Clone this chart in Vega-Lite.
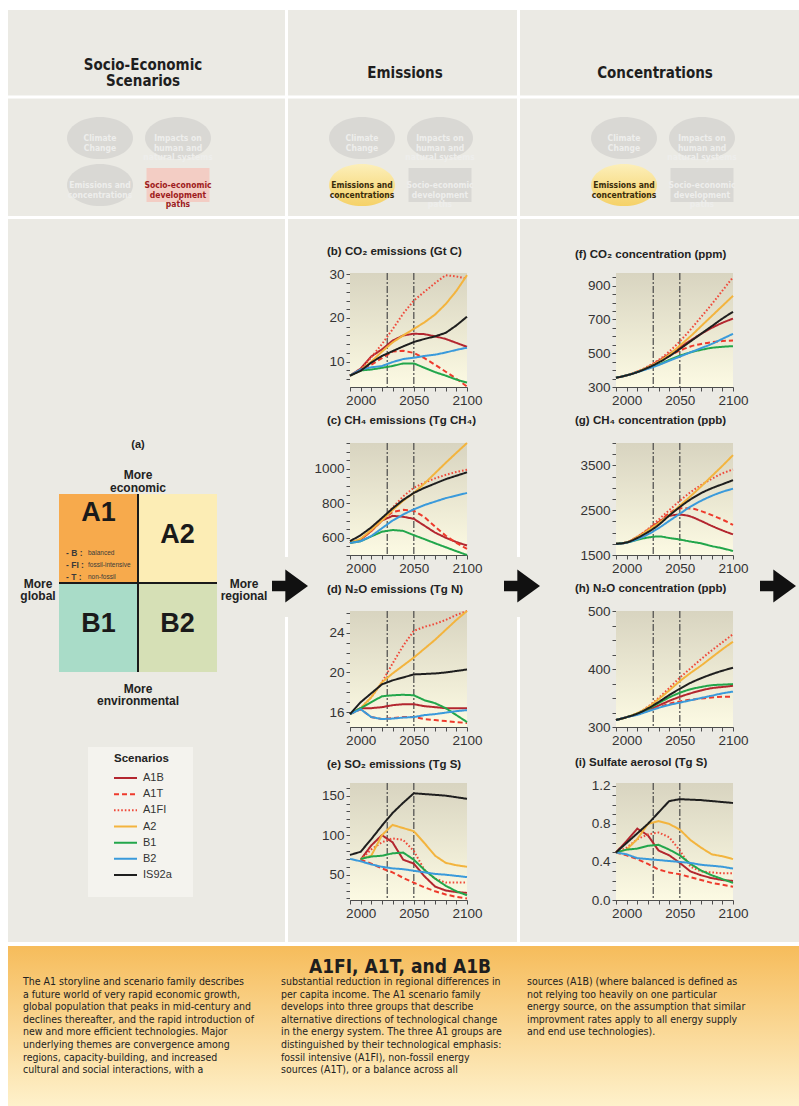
{
"$schema": "https://vega.github.io/schema/vega-lite/v6.json",
"background": "#EBEAE4",
"padding": 0,
"columns": 5,
"align": "each",
"bounds": "flush",
"spacing": {"row": 56, "column": 0},
"config": {
  "view": {"stroke": null},
  "font": "Liberation Sans",
  "legend": {"disable": true},
  "axis": {"grid": false, "domainColor": "#4d4d4d", "domainWidth": 1, "tickColor": "#4d4d4d", "tickSize": 4, "labelFont": "Liberation Sans", "labelFontSize": 13.5, "labelColor": "#333333", "labelPadding": 2, "labelOverlap": false, "labelFlush": false},
  "title": {"font": "Liberation Sans", "fontSize": 11.5, "fontWeight": "bold", "color": "#222222", "anchor": "start", "frame": "group", "offset": 10},
  "text": {"font": "Liberation Sans"}
},
"datasets": {
  "nodes": [
    {"panel": "Socio-Economic Scenarios", "node": "Climate change", "slot": "left", "tier": "top", "label": "Climate\nChange", "focus": false},
    {"panel": "Socio-Economic Scenarios", "node": "Impacts on human and natural systems", "slot": "right", "tier": "top", "label": "Impacts on\nhuman and\nnatural systems", "focus": false},
    {"panel": "Socio-Economic Scenarios", "node": "Emissions and concentrations", "slot": "left", "tier": "bottom", "label": "Emissions and\nconcentrations", "focus": false},
    {"panel": "Socio-Economic Scenarios", "node": "Socio-economic development paths", "slot": "right", "tier": "bottom", "label": "Socio-economic\ndevelopment\npaths", "focus": true},
    {"panel": "Emissions", "node": "Climate change", "slot": "left", "tier": "top", "label": "Climate\nChange", "focus": false},
    {"panel": "Emissions", "node": "Impacts on human and natural systems", "slot": "right", "tier": "top", "label": "Impacts on\nhuman and\nnatural systems", "focus": false},
    {"panel": "Emissions", "node": "Emissions and concentrations", "slot": "left", "tier": "bottom", "label": "Emissions and\nconcentrations", "focus": true},
    {"panel": "Emissions", "node": "Socio-economic development paths", "slot": "right", "tier": "bottom", "label": "Socio-economic\ndevelopment\npaths", "focus": false},
    {"panel": "Concentrations", "node": "Climate change", "slot": "left", "tier": "top", "label": "Climate\nChange", "focus": false},
    {"panel": "Concentrations", "node": "Impacts on human and natural systems", "slot": "right", "tier": "top", "label": "Impacts on\nhuman and\nnatural systems", "focus": false},
    {"panel": "Concentrations", "node": "Emissions and concentrations", "slot": "left", "tier": "bottom", "label": "Emissions and\nconcentrations", "focus": true},
    {"panel": "Concentrations", "node": "Socio-economic development paths", "slot": "right", "tier": "bottom", "label": "Socio-economic\ndevelopment\npaths", "focus": false}
  ],
  "quadrants": [
    {"quadrant": "A1", "orientation": "global", "emphasis": "economic"},
    {"quadrant": "A2", "orientation": "regional", "emphasis": "economic"},
    {"quadrant": "B1", "orientation": "global", "emphasis": "environmental"},
    {"quadrant": "B2", "orientation": "regional", "emphasis": "environmental"}
  ],
  "scenarios": [
    {"scenario": "A1B"}, {"scenario": "A1T"}, {"scenario": "A1FI"}, {"scenario": "A2"}, {"scenario": "B1"}, {"scenario": "B2"}, {"scenario": "IS92a"}
  ],
  "co2e": [
    {"scenario":"A1B","year":1990,"value":6.8},{"scenario":"A1B","year":2000,"value":8.4},{"scenario":"A1B","year":2010,"value":11.2},{"scenario":"A1B","year":2020,"value":12.8},{"scenario":"A1B","year":2030,"value":14.8},{"scenario":"A1B","year":2040,"value":16.0},{"scenario":"A1B","year":2050,"value":16.4},{"scenario":"A1B","year":2060,"value":16.3},{"scenario":"A1B","year":2070,"value":15.8},{"scenario":"A1B","year":2080,"value":15.2},{"scenario":"A1B","year":2090,"value":14.3},{"scenario":"A1B","year":2100,"value":13.4},
    {"scenario":"A1T","year":1990,"value":6.8},{"scenario":"A1T","year":2000,"value":8.2},{"scenario":"A1T","year":2010,"value":9.3},{"scenario":"A1T","year":2020,"value":10.8},{"scenario":"A1T","year":2030,"value":12.3},{"scenario":"A1T","year":2040,"value":12.5},{"scenario":"A1T","year":2050,"value":12.0},{"scenario":"A1T","year":2060,"value":10.8},{"scenario":"A1T","year":2070,"value":9.3},{"scenario":"A1T","year":2080,"value":7.7},{"scenario":"A1T","year":2090,"value":6.1},{"scenario":"A1T","year":2100,"value":4.3},
    {"scenario":"A1FI","year":1990,"value":6.8},{"scenario":"A1FI","year":2000,"value":8.2},{"scenario":"A1FI","year":2010,"value":11.0},{"scenario":"A1FI","year":2020,"value":14.0},{"scenario":"A1FI","year":2030,"value":17.4},{"scenario":"A1FI","year":2040,"value":21.0},{"scenario":"A1FI","year":2050,"value":24.0},{"scenario":"A1FI","year":2060,"value":26.0},{"scenario":"A1FI","year":2070,"value":28.0},{"scenario":"A1FI","year":2080,"value":29.8},{"scenario":"A1FI","year":2090,"value":29.5},{"scenario":"A1FI","year":2100,"value":29.0},
    {"scenario":"A2","year":1990,"value":6.8},{"scenario":"A2","year":2000,"value":8.0},{"scenario":"A2","year":2010,"value":10.0},{"scenario":"A2","year":2020,"value":12.3},{"scenario":"A2","year":2030,"value":14.4},{"scenario":"A2","year":2040,"value":16.0},{"scenario":"A2","year":2050,"value":17.5},{"scenario":"A2","year":2060,"value":19.0},{"scenario":"A2","year":2070,"value":20.8},{"scenario":"A2","year":2080,"value":23.2},{"scenario":"A2","year":2090,"value":26.2},{"scenario":"A2","year":2100,"value":29.8},
    {"scenario":"B1","year":1990,"value":6.8},{"scenario":"B1","year":2000,"value":8.0},{"scenario":"B1","year":2010,"value":8.2},{"scenario":"B1","year":2020,"value":8.6},{"scenario":"B1","year":2030,"value":9.0},{"scenario":"B1","year":2040,"value":9.6},{"scenario":"B1","year":2050,"value":9.6},{"scenario":"B1","year":2060,"value":8.6},{"scenario":"B1","year":2070,"value":7.6},{"scenario":"B1","year":2080,"value":6.8},{"scenario":"B1","year":2090,"value":5.9},{"scenario":"B1","year":2100,"value":5.2},
    {"scenario":"B2","year":1990,"value":6.8},{"scenario":"B2","year":2000,"value":8.2},{"scenario":"B2","year":2010,"value":8.7},{"scenario":"B2","year":2020,"value":9.0},{"scenario":"B2","year":2030,"value":9.9},{"scenario":"B2","year":2040,"value":10.6},{"scenario":"B2","year":2050,"value":10.9},{"scenario":"B2","year":2060,"value":11.3},{"scenario":"B2","year":2070,"value":11.6},{"scenario":"B2","year":2080,"value":12.1},{"scenario":"B2","year":2090,"value":12.7},{"scenario":"B2","year":2100,"value":13.2},
    {"scenario":"IS92a","year":1990,"value":6.8},{"scenario":"IS92a","year":2000,"value":7.9},{"scenario":"IS92a","year":2010,"value":9.8},{"scenario":"IS92a","year":2020,"value":11.3},{"scenario":"IS92a","year":2030,"value":12.4},{"scenario":"IS92a","year":2040,"value":13.5},{"scenario":"IS92a","year":2050,"value":14.5},{"scenario":"IS92a","year":2060,"value":15.2},{"scenario":"IS92a","year":2070,"value":15.8},{"scenario":"IS92a","year":2080,"value":16.6},{"scenario":"IS92a","year":2090,"value":18.3},{"scenario":"IS92a","year":2100,"value":20.3}
  ],
  "ch4e": [
    {"scenario":"A1B","year":1990,"value":570},{"scenario":"A1B","year":2000,"value":590},{"scenario":"A1B","year":2010,"value":640},{"scenario":"A1B","year":2020,"value":700},{"scenario":"A1B","year":2030,"value":727},{"scenario":"A1B","year":2040,"value":722},{"scenario":"A1B","year":2050,"value":710},{"scenario":"A1B","year":2060,"value":670},{"scenario":"A1B","year":2070,"value":630},{"scenario":"A1B","year":2080,"value":600},{"scenario":"A1B","year":2090,"value":575},{"scenario":"A1B","year":2100,"value":555},
    {"scenario":"A1T","year":1990,"value":570},{"scenario":"A1T","year":2000,"value":590},{"scenario":"A1T","year":2010,"value":640},{"scenario":"A1T","year":2020,"value":700},{"scenario":"A1T","year":2030,"value":750},{"scenario":"A1T","year":2040,"value":762},{"scenario":"A1T","year":2050,"value":757},{"scenario":"A1T","year":2060,"value":720},{"scenario":"A1T","year":2070,"value":665},{"scenario":"A1T","year":2080,"value":612},{"scenario":"A1T","year":2090,"value":570},{"scenario":"A1T","year":2100,"value":535},
    {"scenario":"A1FI","year":1990,"value":570},{"scenario":"A1FI","year":2000,"value":590},{"scenario":"A1FI","year":2010,"value":640},{"scenario":"A1FI","year":2020,"value":705},{"scenario":"A1FI","year":2030,"value":775},{"scenario":"A1FI","year":2040,"value":840},{"scenario":"A1FI","year":2050,"value":890},{"scenario":"A1FI","year":2060,"value":920},{"scenario":"A1FI","year":2070,"value":945},{"scenario":"A1FI","year":2080,"value":965},{"scenario":"A1FI","year":2090,"value":982},{"scenario":"A1FI","year":2100,"value":995},
    {"scenario":"A2","year":1990,"value":570},{"scenario":"A2","year":2000,"value":595},{"scenario":"A2","year":2010,"value":645},{"scenario":"A2","year":2020,"value":700},{"scenario":"A2","year":2030,"value":760},{"scenario":"A2","year":2040,"value":815},{"scenario":"A2","year":2050,"value":860},{"scenario":"A2","year":2060,"value":915},{"scenario":"A2","year":2070,"value":975},{"scenario":"A2","year":2080,"value":1035},{"scenario":"A2","year":2090,"value":1093},{"scenario":"A2","year":2100,"value":1150},
    {"scenario":"B1","year":1990,"value":570},{"scenario":"B1","year":2000,"value":580},{"scenario":"B1","year":2010,"value":608},{"scenario":"B1","year":2020,"value":635},{"scenario":"B1","year":2030,"value":645},{"scenario":"B1","year":2040,"value":640},{"scenario":"B1","year":2050,"value":615},{"scenario":"B1","year":2060,"value":592},{"scenario":"B1","year":2070,"value":568},{"scenario":"B1","year":2080,"value":545},{"scenario":"B1","year":2090,"value":522},{"scenario":"B1","year":2100,"value":500},
    {"scenario":"B2","year":1990,"value":570},{"scenario":"B2","year":2000,"value":580},{"scenario":"B2","year":2010,"value":610},{"scenario":"B2","year":2020,"value":655},{"scenario":"B2","year":2030,"value":700},{"scenario":"B2","year":2040,"value":735},{"scenario":"B2","year":2050,"value":765},{"scenario":"B2","year":2060,"value":790},{"scenario":"B2","year":2070,"value":810},{"scenario":"B2","year":2080,"value":830},{"scenario":"B2","year":2090,"value":845},{"scenario":"B2","year":2100,"value":860},
    {"scenario":"IS92a","year":1990,"value":580},{"scenario":"IS92a","year":2000,"value":615},{"scenario":"IS92a","year":2010,"value":660},{"scenario":"IS92a","year":2020,"value":715},{"scenario":"IS92a","year":2030,"value":770},{"scenario":"IS92a","year":2040,"value":820},{"scenario":"IS92a","year":2050,"value":860},{"scenario":"IS92a","year":2060,"value":890},{"scenario":"IS92a","year":2070,"value":915},{"scenario":"IS92a","year":2080,"value":940},{"scenario":"IS92a","year":2090,"value":960},{"scenario":"IS92a","year":2100,"value":980}
  ],
  "n2oe": [
    {"scenario":"A1B","year":1990,"value":15.8},{"scenario":"A1B","year":2000,"value":16.4},{"scenario":"A1B","year":2010,"value":16.4},{"scenario":"A1B","year":2020,"value":16.5},{"scenario":"A1B","year":2030,"value":16.7},{"scenario":"A1B","year":2040,"value":16.8},{"scenario":"A1B","year":2050,"value":16.8},{"scenario":"A1B","year":2060,"value":16.6},{"scenario":"A1B","year":2070,"value":16.5},{"scenario":"A1B","year":2080,"value":16.4},{"scenario":"A1B","year":2090,"value":16.4},{"scenario":"A1B","year":2100,"value":16.4},
    {"scenario":"A1T","year":1990,"value":15.8},{"scenario":"A1T","year":2000,"value":16.3},{"scenario":"A1T","year":2010,"value":15.5},{"scenario":"A1T","year":2020,"value":15.3},{"scenario":"A1T","year":2030,"value":15.4},{"scenario":"A1T","year":2040,"value":15.5},{"scenario":"A1T","year":2050,"value":15.5},{"scenario":"A1T","year":2060,"value":15.3},{"scenario":"A1T","year":2070,"value":15.2},{"scenario":"A1T","year":2080,"value":15.1},{"scenario":"A1T","year":2090,"value":15.0},{"scenario":"A1T","year":2100,"value":14.9},
    {"scenario":"A1FI","year":1990,"value":15.8},{"scenario":"A1FI","year":2000,"value":16.4},{"scenario":"A1FI","year":2010,"value":17.5},{"scenario":"A1FI","year":2020,"value":19.0},{"scenario":"A1FI","year":2030,"value":20.9},{"scenario":"A1FI","year":2040,"value":22.7},{"scenario":"A1FI","year":2050,"value":24.2},{"scenario":"A1FI","year":2060,"value":24.6},{"scenario":"A1FI","year":2070,"value":24.9},{"scenario":"A1FI","year":2080,"value":25.3},{"scenario":"A1FI","year":2090,"value":25.8},{"scenario":"A1FI","year":2100,"value":26.2},
    {"scenario":"A2","year":1990,"value":15.8},{"scenario":"A2","year":2000,"value":16.4},{"scenario":"A2","year":2010,"value":17.5},{"scenario":"A2","year":2020,"value":19.0},{"scenario":"A2","year":2030,"value":19.9},{"scenario":"A2","year":2040,"value":20.7},{"scenario":"A2","year":2050,"value":21.5},{"scenario":"A2","year":2060,"value":22.4},{"scenario":"A2","year":2070,"value":23.3},{"scenario":"A2","year":2080,"value":24.3},{"scenario":"A2","year":2090,"value":25.3},{"scenario":"A2","year":2100,"value":26.2},
    {"scenario":"B1","year":1990,"value":15.8},{"scenario":"B1","year":2000,"value":16.4},{"scenario":"B1","year":2010,"value":17.0},{"scenario":"B1","year":2020,"value":17.6},{"scenario":"B1","year":2030,"value":17.7},{"scenario":"B1","year":2040,"value":17.75},{"scenario":"B1","year":2050,"value":17.7},{"scenario":"B1","year":2060,"value":17.2},{"scenario":"B1","year":2070,"value":16.9},{"scenario":"B1","year":2080,"value":16.4},{"scenario":"B1","year":2090,"value":15.7},{"scenario":"B1","year":2100,"value":15.0},
    {"scenario":"B2","year":1990,"value":15.8},{"scenario":"B2","year":2000,"value":16.3},{"scenario":"B2","year":2010,"value":15.5},{"scenario":"B2","year":2020,"value":15.3},{"scenario":"B2","year":2030,"value":15.35},{"scenario":"B2","year":2040,"value":15.45},{"scenario":"B2","year":2050,"value":15.5},{"scenario":"B2","year":2060,"value":15.7},{"scenario":"B2","year":2070,"value":15.8},{"scenario":"B2","year":2080,"value":15.95},{"scenario":"B2","year":2090,"value":16.1},{"scenario":"B2","year":2100,"value":16.2},
    {"scenario":"IS92a","year":1990,"value":15.8},{"scenario":"IS92a","year":2000,"value":17.0},{"scenario":"IS92a","year":2010,"value":17.9},{"scenario":"IS92a","year":2020,"value":18.8},{"scenario":"IS92a","year":2030,"value":19.2},{"scenario":"IS92a","year":2040,"value":19.5},{"scenario":"IS92a","year":2050,"value":19.8},{"scenario":"IS92a","year":2060,"value":19.85},{"scenario":"IS92a","year":2070,"value":19.9},{"scenario":"IS92a","year":2080,"value":20.0},{"scenario":"IS92a","year":2090,"value":20.15},{"scenario":"IS92a","year":2100,"value":20.3}
  ],
  "so2e": [
    {"scenario":"A1B","year":2000,"value":69},{"scenario":"A1B","year":2010,"value":87},{"scenario":"A1B","year":2020,"value":100},{"scenario":"A1B","year":2030,"value":91},{"scenario":"A1B","year":2040,"value":69},{"scenario":"A1B","year":2050,"value":64},{"scenario":"A1B","year":2060,"value":48},{"scenario":"A1B","year":2070,"value":35},{"scenario":"A1B","year":2080,"value":30},{"scenario":"A1B","year":2090,"value":28},{"scenario":"A1B","year":2100,"value":27},
    {"scenario":"A1T","year":2000,"value":69},{"scenario":"A1T","year":2010,"value":64},{"scenario":"A1T","year":2020,"value":58},{"scenario":"A1T","year":2030,"value":53},{"scenario":"A1T","year":2040,"value":46},{"scenario":"A1T","year":2050,"value":40},{"scenario":"A1T","year":2060,"value":34},{"scenario":"A1T","year":2070,"value":29},{"scenario":"A1T","year":2080,"value":25},{"scenario":"A1T","year":2090,"value":22},{"scenario":"A1T","year":2100,"value":20},
    {"scenario":"A1FI","year":2000,"value":69},{"scenario":"A1FI","year":2010,"value":82},{"scenario":"A1FI","year":2020,"value":91},{"scenario":"A1FI","year":2030,"value":96},{"scenario":"A1FI","year":2040,"value":94},{"scenario":"A1FI","year":2050,"value":80},{"scenario":"A1FI","year":2060,"value":56},{"scenario":"A1FI","year":2070,"value":45},{"scenario":"A1FI","year":2080,"value":40},{"scenario":"A1FI","year":2090,"value":40},{"scenario":"A1FI","year":2100,"value":40},
    {"scenario":"A2","year":2000,"value":70},{"scenario":"A2","year":2010,"value":74},{"scenario":"A2","year":2020,"value":100},{"scenario":"A2","year":2030,"value":113},{"scenario":"A2","year":2040,"value":109},{"scenario":"A2","year":2050,"value":105},{"scenario":"A2","year":2060,"value":90},{"scenario":"A2","year":2070,"value":74},{"scenario":"A2","year":2080,"value":65},{"scenario":"A2","year":2090,"value":62},{"scenario":"A2","year":2100,"value":60},
    {"scenario":"B1","year":2000,"value":70},{"scenario":"B1","year":2010,"value":73},{"scenario":"B1","year":2020,"value":74},{"scenario":"B1","year":2030,"value":77},{"scenario":"B1","year":2040,"value":78},{"scenario":"B1","year":2050,"value":69},{"scenario":"B1","year":2060,"value":56},{"scenario":"B1","year":2070,"value":45},{"scenario":"B1","year":2080,"value":36},{"scenario":"B1","year":2090,"value":29},{"scenario":"B1","year":2100,"value":24},
    {"scenario":"B2","year":1990,"value":70},{"scenario":"B2","year":2000,"value":67},{"scenario":"B2","year":2010,"value":63},{"scenario":"B2","year":2020,"value":60},{"scenario":"B2","year":2030,"value":58},{"scenario":"B2","year":2040,"value":57},{"scenario":"B2","year":2050,"value":55},{"scenario":"B2","year":2060,"value":53},{"scenario":"B2","year":2070,"value":51},{"scenario":"B2","year":2080,"value":50},{"scenario":"B2","year":2090,"value":48.5},{"scenario":"B2","year":2100,"value":47},
    {"scenario":"IS92a","year":1990,"value":75},{"scenario":"IS92a","year":2000,"value":79},{"scenario":"IS92a","year":2010,"value":95},{"scenario":"IS92a","year":2020,"value":112},{"scenario":"IS92a","year":2030,"value":128},{"scenario":"IS92a","year":2040,"value":141},{"scenario":"IS92a","year":2050,"value":153},{"scenario":"IS92a","year":2060,"value":152},{"scenario":"IS92a","year":2070,"value":151},{"scenario":"IS92a","year":2080,"value":150},{"scenario":"IS92a","year":2090,"value":148},{"scenario":"IS92a","year":2100,"value":146}
  ],
  "co2c": [
    {"scenario":"A1B","year":1990,"value":355},{"scenario":"A1B","year":2000,"value":369},{"scenario":"A1B","year":2010,"value":390},{"scenario":"A1B","year":2020,"value":418},{"scenario":"A1B","year":2030,"value":455},{"scenario":"A1B","year":2040,"value":495},{"scenario":"A1B","year":2050,"value":535},{"scenario":"A1B","year":2060,"value":575},{"scenario":"A1B","year":2070,"value":615},{"scenario":"A1B","year":2080,"value":650},{"scenario":"A1B","year":2090,"value":680},{"scenario":"A1B","year":2100,"value":705},
    {"scenario":"A1T","year":1990,"value":355},{"scenario":"A1T","year":2000,"value":369},{"scenario":"A1T","year":2010,"value":390},{"scenario":"A1T","year":2020,"value":417},{"scenario":"A1T","year":2030,"value":450},{"scenario":"A1T","year":2040,"value":485},{"scenario":"A1T","year":2050,"value":515},{"scenario":"A1T","year":2060,"value":540},{"scenario":"A1T","year":2070,"value":555},{"scenario":"A1T","year":2080,"value":565},{"scenario":"A1T","year":2090,"value":572},{"scenario":"A1T","year":2100,"value":575},
    {"scenario":"A1FI","year":1990,"value":355},{"scenario":"A1FI","year":2000,"value":369},{"scenario":"A1FI","year":2010,"value":392},{"scenario":"A1FI","year":2020,"value":422},{"scenario":"A1FI","year":2030,"value":460},{"scenario":"A1FI","year":2040,"value":510},{"scenario":"A1FI","year":2050,"value":570},{"scenario":"A1FI","year":2060,"value":640},{"scenario":"A1FI","year":2070,"value":715},{"scenario":"A1FI","year":2080,"value":790},{"scenario":"A1FI","year":2090,"value":870},{"scenario":"A1FI","year":2100,"value":950},
    {"scenario":"A2","year":1990,"value":355},{"scenario":"A2","year":2000,"value":369},{"scenario":"A2","year":2010,"value":390},{"scenario":"A2","year":2020,"value":417},{"scenario":"A2","year":2030,"value":450},{"scenario":"A2","year":2040,"value":492},{"scenario":"A2","year":2050,"value":545},{"scenario":"A2","year":2060,"value":600},{"scenario":"A2","year":2070,"value":660},{"scenario":"A2","year":2080,"value":720},{"scenario":"A2","year":2090,"value":780},{"scenario":"A2","year":2100,"value":840},
    {"scenario":"B1","year":1990,"value":355},{"scenario":"B1","year":2000,"value":369},{"scenario":"B1","year":2010,"value":389},{"scenario":"B1","year":2020,"value":412},{"scenario":"B1","year":2030,"value":433},{"scenario":"B1","year":2040,"value":460},{"scenario":"B1","year":2050,"value":485},{"scenario":"B1","year":2060,"value":505},{"scenario":"B1","year":2070,"value":520},{"scenario":"B1","year":2080,"value":532},{"scenario":"B1","year":2090,"value":538},{"scenario":"B1","year":2100,"value":542},
    {"scenario":"B2","year":1990,"value":355},{"scenario":"B2","year":2000,"value":369},{"scenario":"B2","year":2010,"value":388},{"scenario":"B2","year":2020,"value":408},{"scenario":"B2","year":2030,"value":430},{"scenario":"B2","year":2040,"value":455},{"scenario":"B2","year":2050,"value":480},{"scenario":"B2","year":2060,"value":505},{"scenario":"B2","year":2070,"value":530},{"scenario":"B2","year":2080,"value":555},{"scenario":"B2","year":2090,"value":585},{"scenario":"B2","year":2100,"value":615},
    {"scenario":"IS92a","year":1990,"value":355},{"scenario":"IS92a","year":2000,"value":369},{"scenario":"IS92a","year":2010,"value":388},{"scenario":"IS92a","year":2020,"value":414},{"scenario":"IS92a","year":2030,"value":445},{"scenario":"IS92a","year":2040,"value":482},{"scenario":"IS92a","year":2050,"value":525},{"scenario":"IS92a","year":2060,"value":570},{"scenario":"IS92a","year":2070,"value":615},{"scenario":"IS92a","year":2080,"value":660},{"scenario":"IS92a","year":2090,"value":705},{"scenario":"IS92a","year":2100,"value":745}
  ],
  "ch4c": [
    {"scenario":"A1B","year":1990,"value":1750},{"scenario":"A1B","year":2000,"value":1780},{"scenario":"A1B","year":2010,"value":1900},{"scenario":"A1B","year":2020,"value":2060},{"scenario":"A1B","year":2030,"value":2230},{"scenario":"A1B","year":2040,"value":2370},{"scenario":"A1B","year":2050,"value":2400},{"scenario":"A1B","year":2060,"value":2360},{"scenario":"A1B","year":2070,"value":2260},{"scenario":"A1B","year":2080,"value":2150},{"scenario":"A1B","year":2090,"value":2050},{"scenario":"A1B","year":2100,"value":1960},
    {"scenario":"A1T","year":1990,"value":1750},{"scenario":"A1T","year":2000,"value":1780},{"scenario":"A1T","year":2010,"value":1900},{"scenario":"A1T","year":2020,"value":2060},{"scenario":"A1T","year":2030,"value":2230},{"scenario":"A1T","year":2040,"value":2430},{"scenario":"A1T","year":2050,"value":2545},{"scenario":"A1T","year":2060,"value":2540},{"scenario":"A1T","year":2070,"value":2480},{"scenario":"A1T","year":2080,"value":2390},{"scenario":"A1T","year":2090,"value":2290},{"scenario":"A1T","year":2100,"value":2170},
    {"scenario":"A1FI","year":1990,"value":1750},{"scenario":"A1FI","year":2000,"value":1780},{"scenario":"A1FI","year":2010,"value":1910},{"scenario":"A1FI","year":2020,"value":2080},{"scenario":"A1FI","year":2030,"value":2290},{"scenario":"A1FI","year":2040,"value":2500},{"scenario":"A1FI","year":2050,"value":2710},{"scenario":"A1FI","year":2060,"value":2900},{"scenario":"A1FI","year":2070,"value":3060},{"scenario":"A1FI","year":2080,"value":3200},{"scenario":"A1FI","year":2090,"value":3320},{"scenario":"A1FI","year":2100,"value":3410},
    {"scenario":"A2","year":1990,"value":1750},{"scenario":"A2","year":2000,"value":1780},{"scenario":"A2","year":2010,"value":1900},{"scenario":"A2","year":2020,"value":2050},{"scenario":"A2","year":2030,"value":2210},{"scenario":"A2","year":2040,"value":2390},{"scenario":"A2","year":2050,"value":2600},{"scenario":"A2","year":2060,"value":2810},{"scenario":"A2","year":2070,"value":3030},{"scenario":"A2","year":2080,"value":3260},{"scenario":"A2","year":2090,"value":3490},{"scenario":"A2","year":2100,"value":3730},
    {"scenario":"B1","year":1990,"value":1750},{"scenario":"B1","year":2000,"value":1780},{"scenario":"B1","year":2010,"value":1840},{"scenario":"B1","year":2020,"value":1890},{"scenario":"B1","year":2030,"value":1915},{"scenario":"B1","year":2040,"value":1880},{"scenario":"B1","year":2050,"value":1845},{"scenario":"B1","year":2060,"value":1800},{"scenario":"B1","year":2070,"value":1760},{"scenario":"B1","year":2080,"value":1700},{"scenario":"B1","year":2090,"value":1650},{"scenario":"B1","year":2100,"value":1590},
    {"scenario":"B2","year":1990,"value":1750},{"scenario":"B2","year":2000,"value":1775},{"scenario":"B2","year":2010,"value":1850},{"scenario":"B2","year":2020,"value":1960},{"scenario":"B2","year":2030,"value":2100},{"scenario":"B2","year":2040,"value":2260},{"scenario":"B2","year":2050,"value":2420},{"scenario":"B2","year":2060,"value":2580},{"scenario":"B2","year":2070,"value":2710},{"scenario":"B2","year":2080,"value":2820},{"scenario":"B2","year":2090,"value":2910},{"scenario":"B2","year":2100,"value":2980},
    {"scenario":"IS92a","year":1990,"value":1750},{"scenario":"IS92a","year":2000,"value":1780},{"scenario":"IS92a","year":2010,"value":1880},{"scenario":"IS92a","year":2020,"value":2010},{"scenario":"IS92a","year":2030,"value":2170},{"scenario":"IS92a","year":2040,"value":2380},{"scenario":"IS92a","year":2050,"value":2570},{"scenario":"IS92a","year":2060,"value":2740},{"scenario":"IS92a","year":2070,"value":2880},{"scenario":"IS92a","year":2080,"value":2990},{"scenario":"IS92a","year":2090,"value":3080},{"scenario":"IS92a","year":2100,"value":3170}
  ],
  "n2oc": [
    {"scenario":"A1B","year":1990,"value":312},{"scenario":"A1B","year":2000,"value":317},{"scenario":"A1B","year":2010,"value":322},{"scenario":"A1B","year":2020,"value":329},{"scenario":"A1B","year":2030,"value":337},{"scenario":"A1B","year":2040,"value":345},{"scenario":"A1B","year":2050,"value":352},{"scenario":"A1B","year":2060,"value":358},{"scenario":"A1B","year":2070,"value":363},{"scenario":"A1B","year":2080,"value":367},{"scenario":"A1B","year":2090,"value":369},{"scenario":"A1B","year":2100,"value":371},
    {"scenario":"A1T","year":1990,"value":312},{"scenario":"A1T","year":2000,"value":317},{"scenario":"A1T","year":2010,"value":322},{"scenario":"A1T","year":2020,"value":328},{"scenario":"A1T","year":2030,"value":334},{"scenario":"A1T","year":2040,"value":340},{"scenario":"A1T","year":2050,"value":344},{"scenario":"A1T","year":2060,"value":347},{"scenario":"A1T","year":2070,"value":349},{"scenario":"A1T","year":2080,"value":351},{"scenario":"A1T","year":2090,"value":352},{"scenario":"A1T","year":2100,"value":352},
    {"scenario":"A1FI","year":1990,"value":312},{"scenario":"A1FI","year":2000,"value":317},{"scenario":"A1FI","year":2010,"value":324},{"scenario":"A1FI","year":2020,"value":335},{"scenario":"A1FI","year":2030,"value":350},{"scenario":"A1FI","year":2040,"value":367},{"scenario":"A1FI","year":2050,"value":385},{"scenario":"A1FI","year":2060,"value":401},{"scenario":"A1FI","year":2070,"value":417},{"scenario":"A1FI","year":2080,"value":432},{"scenario":"A1FI","year":2090,"value":446},{"scenario":"A1FI","year":2100,"value":460},
    {"scenario":"A2","year":1990,"value":312},{"scenario":"A2","year":2000,"value":317},{"scenario":"A2","year":2010,"value":324},{"scenario":"A2","year":2020,"value":334},{"scenario":"A2","year":2030,"value":348},{"scenario":"A2","year":2040,"value":363},{"scenario":"A2","year":2050,"value":379},{"scenario":"A2","year":2060,"value":393},{"scenario":"A2","year":2070,"value":406},{"scenario":"A2","year":2080,"value":420},{"scenario":"A2","year":2090,"value":434},{"scenario":"A2","year":2100,"value":447},
    {"scenario":"B1","year":1990,"value":312},{"scenario":"B1","year":2000,"value":317},{"scenario":"B1","year":2010,"value":323},{"scenario":"B1","year":2020,"value":331},{"scenario":"B1","year":2030,"value":341},{"scenario":"B1","year":2040,"value":351},{"scenario":"B1","year":2050,"value":359},{"scenario":"B1","year":2060,"value":365},{"scenario":"B1","year":2070,"value":369},{"scenario":"B1","year":2080,"value":372},{"scenario":"B1","year":2090,"value":373},{"scenario":"B1","year":2100,"value":374},
    {"scenario":"B2","year":1990,"value":312},{"scenario":"B2","year":2000,"value":317},{"scenario":"B2","year":2010,"value":321},{"scenario":"B2","year":2020,"value":327},{"scenario":"B2","year":2030,"value":333},{"scenario":"B2","year":2040,"value":338},{"scenario":"B2","year":2050,"value":342},{"scenario":"B2","year":2060,"value":346},{"scenario":"B2","year":2070,"value":350},{"scenario":"B2","year":2080,"value":354},{"scenario":"B2","year":2090,"value":358},{"scenario":"B2","year":2100,"value":361},
    {"scenario":"IS92a","year":1990,"value":312},{"scenario":"IS92a","year":2000,"value":317},{"scenario":"IS92a","year":2010,"value":323},{"scenario":"IS92a","year":2020,"value":332},{"scenario":"IS92a","year":2030,"value":343},{"scenario":"IS92a","year":2040,"value":355},{"scenario":"IS92a","year":2050,"value":366},{"scenario":"IS92a","year":2060,"value":376},{"scenario":"IS92a","year":2070,"value":384},{"scenario":"IS92a","year":2080,"value":391},{"scenario":"IS92a","year":2090,"value":397},{"scenario":"IS92a","year":2100,"value":402}
  ],
  "sulf": [
    {"scenario":"A1B","year":1990,"value":0.5},{"scenario":"A1B","year":2000,"value":0.62},{"scenario":"A1B","year":2010,"value":0.75},{"scenario":"A1B","year":2020,"value":0.68},{"scenario":"A1B","year":2030,"value":0.52},{"scenario":"A1B","year":2040,"value":0.47},{"scenario":"A1B","year":2050,"value":0.39},{"scenario":"A1B","year":2060,"value":0.3},{"scenario":"A1B","year":2070,"value":0.26},{"scenario":"A1B","year":2080,"value":0.23},{"scenario":"A1B","year":2090,"value":0.21},{"scenario":"A1B","year":2100,"value":0.2},
    {"scenario":"A1T","year":1990,"value":0.5},{"scenario":"A1T","year":2000,"value":0.47},{"scenario":"A1T","year":2010,"value":0.43},{"scenario":"A1T","year":2020,"value":0.38},{"scenario":"A1T","year":2030,"value":0.32},{"scenario":"A1T","year":2040,"value":0.29},{"scenario":"A1T","year":2050,"value":0.27},{"scenario":"A1T","year":2060,"value":0.24},{"scenario":"A1T","year":2070,"value":0.21},{"scenario":"A1T","year":2080,"value":0.18},{"scenario":"A1T","year":2090,"value":0.16},{"scenario":"A1T","year":2100,"value":0.14},
    {"scenario":"A1FI","year":1990,"value":0.5},{"scenario":"A1FI","year":2000,"value":0.55},{"scenario":"A1FI","year":2010,"value":0.64},{"scenario":"A1FI","year":2020,"value":0.69},{"scenario":"A1FI","year":2030,"value":0.71},{"scenario":"A1FI","year":2040,"value":0.66},{"scenario":"A1FI","year":2050,"value":0.52},{"scenario":"A1FI","year":2060,"value":0.35},{"scenario":"A1FI","year":2070,"value":0.3},{"scenario":"A1FI","year":2080,"value":0.29},{"scenario":"A1FI","year":2090,"value":0.28},{"scenario":"A1FI","year":2100,"value":0.28},
    {"scenario":"A2","year":1990,"value":0.5},{"scenario":"A2","year":2000,"value":0.53},{"scenario":"A2","year":2010,"value":0.64},{"scenario":"A2","year":2020,"value":0.8},{"scenario":"A2","year":2030,"value":0.83},{"scenario":"A2","year":2040,"value":0.8},{"scenario":"A2","year":2050,"value":0.74},{"scenario":"A2","year":2060,"value":0.63},{"scenario":"A2","year":2070,"value":0.55},{"scenario":"A2","year":2080,"value":0.48},{"scenario":"A2","year":2090,"value":0.46},{"scenario":"A2","year":2100,"value":0.43},
    {"scenario":"B1","year":1990,"value":0.5},{"scenario":"B1","year":2000,"value":0.53},{"scenario":"B1","year":2010,"value":0.54},{"scenario":"B1","year":2020,"value":0.57},{"scenario":"B1","year":2030,"value":0.58},{"scenario":"B1","year":2040,"value":0.53},{"scenario":"B1","year":2050,"value":0.47},{"scenario":"B1","year":2060,"value":0.38},{"scenario":"B1","year":2070,"value":0.31},{"scenario":"B1","year":2080,"value":0.26},{"scenario":"B1","year":2090,"value":0.22},{"scenario":"B1","year":2100,"value":0.18},
    {"scenario":"B2","year":1990,"value":0.5},{"scenario":"B2","year":2000,"value":0.48},{"scenario":"B2","year":2010,"value":0.44},{"scenario":"B2","year":2020,"value":0.43},{"scenario":"B2","year":2030,"value":0.42},{"scenario":"B2","year":2040,"value":0.41},{"scenario":"B2","year":2050,"value":0.4},{"scenario":"B2","year":2060,"value":0.39},{"scenario":"B2","year":2070,"value":0.37},{"scenario":"B2","year":2080,"value":0.36},{"scenario":"B2","year":2090,"value":0.35},{"scenario":"B2","year":2100,"value":0.33},
    {"scenario":"IS92a","year":1990,"value":0.5},{"scenario":"IS92a","year":2000,"value":0.6},{"scenario":"IS92a","year":2010,"value":0.7},{"scenario":"IS92a","year":2020,"value":0.8},{"scenario":"IS92a","year":2030,"value":0.92},{"scenario":"IS92a","year":2040,"value":1.04},{"scenario":"IS92a","year":2050,"value":1.06},{"scenario":"IS92a","year":2060,"value":1.055},{"scenario":"IS92a","year":2070,"value":1.05},{"scenario":"IS92a","year":2080,"value":1.04},{"scenario":"IS92a","year":2090,"value":1.03},{"scenario":"IS92a","year":2100,"value":1.02}
  ]
},
"concat": [
  {
    "width": 350, "height": 217,
    "layer": [
      {"data": {"values": [{}]}, "mark": {"type": "rect", "fill": "#ffffff"}, "encoding": {"x": {"value": 0}, "x2": {"value": 799}, "y": {"value": 0}, "y2": {"value": 10}}},
      {"data": {"values": [{}]}, "mark": {"type": "rect", "fill": "#ffffff"}, "encoding": {"x": {"value": 0}, "x2": {"value": 8}, "y": {"value": 0}, "y2": {"value": 217}}},
      {"data": {"values": [{}]}, "mark": {"type": "rule", "stroke": "#ffffff", "strokeWidth": 3}, "encoding": {"x": {"value": 8}, "x2": {"value": 799}, "y": {"value": 97}}},
      {"data": {"values": [{}]}, "mark": {"type": "rule", "stroke": "#ffffff", "strokeWidth": 3}, "encoding": {"x": {"value": 8}, "x2": {"value": 799}, "y": {"value": 217.5}}},
      {"data": {"values": [{}]}, "mark": {"type": "rule", "stroke": "#ffffff", "strokeWidth": 3}, "encoding": {"x": {"value": 286.5}, "y": {"value": 10}, "y2": {"value": 217}}},
      {"data": {"values": [{}]}, "mark": {"type": "rule", "stroke": "#ffffff", "strokeWidth": 3}, "encoding": {"x": {"value": 518.5}, "y": {"value": 10}, "y2": {"value": 217}}},
      {"data": {"values": [{}]}, "mark": {"type": "text", "font": "DejaVu Sans Condensed, Liberation Sans, sans-serif", "fontSize": 15, "fontWeight": "bold", "color": "#1e1e1e", "align": "center", "baseline": "alphabetic", "lineBreak": "\n", "lineHeight": 16}, "encoding": {"x": {"value": 143}, "y": {"value": 69.5}, "text": {"value": "Socio-Economic\nScenarios"}}},
      {"data": {"values": [{}]}, "mark": {"type": "text", "font": "DejaVu Sans Condensed, Liberation Sans, sans-serif", "fontSize": 15, "fontWeight": "bold", "color": "#1e1e1e", "align": "center", "baseline": "alphabetic"}, "encoding": {"x": {"value": 405}, "y": {"value": 77.5}, "text": {"value": "Emissions"}}},
      {"data": {"values": [{}]}, "mark": {"type": "text", "font": "DejaVu Sans Condensed, Liberation Sans, sans-serif", "fontSize": 15, "fontWeight": "bold", "color": "#1e1e1e", "align": "center", "baseline": "alphabetic"}, "encoding": {"x": {"value": 655}, "y": {"value": 77.5}, "text": {"value": "Concentrations"}}},
      {"data": {"name": "nodes"}, "transform": [{"filter": "datum.node !== 'Socio-economic development paths' && !datum.focus"}],
       "mark": {"type": "point", "shape": "M-1,0C-1,-0.353,-0.552,-0.64,0,-0.64C0.552,-0.64,1,-0.353,1,0C1,0.353,0.552,0.64,0,0.64C-0.552,0.64,-1,0.353,-1,0Z", "size": 4356, "filled": true, "fill": "#D9D8D4", "strokeWidth": 0, "opacity": 1},
       "encoding": {
         "x": {"field": "panel", "type": "nominal", "scale": {"type": "band", "domain": ["Socio-Economic Scenarios", "Emissions", "Concentrations"], "range": [8, 794], "paddingInner": 0, "paddingOuter": 0}, "axis": null},
         "xOffset": {"field": "slot", "type": "nominal", "scale": {"type": "point", "domain": ["left", "right"], "range": [92, 170], "padding": 0}},
         "y": {"field": "tier", "type": "nominal", "scale": {"type": "point", "domain": ["top", "bottom"], "range": [138, 185], "padding": 0}, "axis": null}}},
      {"data": {"name": "nodes"}, "transform": [{"filter": "datum.node === 'Emissions and concentrations' && datum.focus"}],
       "mark": {"type": "point", "shape": "M-1,0C-1,-0.353,-0.552,-0.64,0,-0.64C0.552,-0.64,1,-0.353,1,0C1,0.353,0.552,0.64,0,0.64C-0.552,0.64,-1,0.353,-1,0Z", "size": 4356, "filled": true, "fill": {"gradient": "linear", "x1": 0, "y1": 0, "x2": 0, "y2": 1, "stops": [{"offset": 0, "color": "#FCEFB9"}, {"offset": 1, "color": "#F5D167"}]}, "strokeWidth": 0, "opacity": 1},
       "encoding": {
         "x": {"field": "panel", "type": "nominal", "scale": {"type": "band", "domain": ["Socio-Economic Scenarios", "Emissions", "Concentrations"], "range": [8, 794], "paddingInner": 0, "paddingOuter": 0}, "axis": null},
         "xOffset": {"field": "slot", "type": "nominal", "scale": {"type": "point", "domain": ["left", "right"], "range": [92, 170], "padding": 0}},
         "y": {"field": "tier", "type": "nominal", "scale": {"type": "point", "domain": ["top", "bottom"], "range": [138, 185], "padding": 0}, "axis": null}}},
      {"data": {"name": "nodes"}, "transform": [{"filter": "datum.node === 'Socio-economic development paths'"}],
       "mark": {"type": "point", "shape": "M-1,-0.54L1,-0.54L1,0.54L-1,0.54Z", "size": 3969, "filled": true, "strokeWidth": 0, "opacity": 1},
       "encoding": {
         "x": {"field": "panel", "type": "nominal", "scale": {"type": "band", "domain": ["Socio-Economic Scenarios", "Emissions", "Concentrations"], "range": [8, 794], "paddingInner": 0, "paddingOuter": 0}, "axis": null},
         "xOffset": {"field": "slot", "type": "nominal", "scale": {"type": "point", "domain": ["left", "right"], "range": [92, 170], "padding": 0}},
         "y": {"field": "tier", "type": "nominal", "scale": {"type": "point", "domain": ["top", "bottom"], "range": [138, 185], "padding": 0}, "axis": null},
         "fill": {"condition": {"test": "datum.focus", "value": "#F3CDC4"}, "value": "#D9D8D4"}}},
      {"data": {"name": "nodes"},
       "mark": {"type": "text", "font": "DejaVu Sans Condensed, Liberation Sans, sans-serif", "fontSize": 8.5, "fontWeight": "bold", "lineBreak": "\n", "lineHeight": 9.5, "align": "center", "baseline": "middle"},
       "encoding": {
         "x": {"field": "panel", "type": "nominal", "scale": {"type": "band", "domain": ["Socio-Economic Scenarios", "Emissions", "Concentrations"], "range": [8, 794], "paddingInner": 0, "paddingOuter": 0}, "axis": null},
         "xOffset": {"field": "slot", "type": "nominal", "scale": {"type": "point", "domain": ["left", "right"], "range": [92, 170], "padding": 0}},
         "y": {"field": "tier", "type": "nominal", "scale": {"type": "point", "domain": ["top", "bottom"], "range": [138, 185], "padding": 0}, "axis": null},
         "text": {"field": "label"},
         "color": {"condition": [{"test": "datum.focus && datum.node === 'Socio-economic development paths'", "value": "#9E1B20"}, {"test": "datum.focus", "value": "#3A2C0A"}], "value": "#EEEEEC"}}}
    ]
  },
  {"width": 1, "height": 1, "data": {"values": [{}]}, "mark": {"type": "rect", "opacity": 0}, "encoding": {"x": {"value": 0}, "x2": {"value": 1}, "y": {"value": 0}, "y2": {"value": 1}}},
  {"width": 1, "height": 1, "data": {"values": [{}]}, "mark": {"type": "rect", "opacity": 0}, "encoding": {"x": {"value": 0}, "x2": {"value": 1}, "y": {"value": 0}, "y2": {"value": 1}}},
  {"width": 1, "height": 1, "data": {"values": [{}]}, "mark": {"type": "rect", "opacity": 0}, "encoding": {"x": {"value": 0}, "x2": {"value": 1}, "y": {"value": 0}, "y2": {"value": 1}}},
  {"width": 1, "height": 1, "data": {"values": [{}]}, "mark": {"type": "rect", "opacity": 0}, "encoding": {"x": {"value": 0}, "x2": {"value": 1}, "y": {"value": 0}, "y2": {"value": 1}}},
  {
    "width": 350, "height": 114,
    "data": {"values": [{}]},
    "resolve": {"scale": {"x": "independent", "y": "independent"}},
    "layer": [
      {"mark": {"type": "rect", "fill": "#ffffff"}, "encoding": {"x": {"value": 0}, "x2": {"value": 8}, "y": {"value": -57}, "y2": {"value": 669}}},
      {"mark": {"type": "rule", "stroke": "#ffffff", "strokeWidth": 3}, "encoding": {"x": {"value": 286.5}, "y": {"value": -57}, "y2": {"value": 284}}},
      {"mark": {"type": "rule", "stroke": "#ffffff", "strokeWidth": 3}, "encoding": {"x": {"value": 286.5}, "y": {"value": 344}, "y2": {"value": 669}}},
      {"mark": {"type": "text", "fontSize": 11, "fontWeight": "bold", "color": "#222222", "align": "center", "baseline": "middle"}, "encoding": {"x": {"value": 138}, "y": {"value": 172}, "text": {"value": "(a)"}}},
      {"mark": {"type": "text", "fontSize": 12, "fontWeight": "bold", "color": "#222222", "align": "center", "baseline": "middle", "lineBreak": "\n", "lineHeight": 12.5}, "encoding": {"x": {"value": 138}, "y": {"value": 202}, "text": {"value": "More\neconomic"}}},
      {"data": {"name": "quadrants"}, "mark": {"type": "point", "shape": "M-1,-1.1266L1,-1.1266L1,1.1266L-1,1.1266Z", "size": 6241, "filled": true, "strokeWidth": 0, "opacity": 1},
       "encoding": {
         "x": {"field": "orientation", "type": "nominal", "scale": {"type": "band", "domain": ["global", "regional"], "range": [59, 217], "paddingInner": 0, "paddingOuter": 0}, "axis": null},
         "y": {"field": "emphasis", "type": "nominal", "scale": {"type": "band", "domain": ["economic", "environmental"], "range": [221, 399], "paddingInner": 0, "paddingOuter": 0}, "axis": null},
         "fill": {"field": "quadrant", "type": "nominal", "scale": {"domain": ["A1", "A2", "B1", "B2"], "range": ["#F7AA4C", "#FCEDB5", "#A9DCC8", "#D6E0B6"]}, "legend": null}}},
      {"data": {"name": "quadrants"}, "transform": [{"filter": "datum.quadrant !== 'A1'"}], "mark": {"type": "text", "fontSize": 27, "fontWeight": "bold", "color": "#1a1a1a", "align": "center", "baseline": "middle", "dy": -4},
       "encoding": {
         "x": {"field": "orientation", "type": "nominal", "scale": {"type": "band", "domain": ["global", "regional"], "range": [59, 217], "paddingInner": 0, "paddingOuter": 0}, "axis": null},
         "y": {"field": "emphasis", "type": "nominal", "scale": {"type": "band", "domain": ["economic", "environmental"], "range": [221, 399], "paddingInner": 0, "paddingOuter": 0}, "axis": null},
         "text": {"field": "quadrant"}}},
      {"data": {"name": "quadrants"}, "transform": [{"filter": "datum.quadrant === 'A1'"}], "mark": {"type": "text", "fontSize": 27, "fontWeight": "bold", "color": "#1a1a1a", "align": "center", "baseline": "middle", "dy": -25.5},
       "encoding": {
         "x": {"field": "orientation", "type": "nominal", "scale": {"type": "band", "domain": ["global", "regional"], "range": [59, 217], "paddingInner": 0, "paddingOuter": 0}, "axis": null},
         "y": {"field": "emphasis", "type": "nominal", "scale": {"type": "band", "domain": ["economic", "environmental"], "range": [221, 399], "paddingInner": 0, "paddingOuter": 0}, "axis": null},
         "text": {"field": "quadrant"}}},
      {"mark": {"type": "rule", "stroke": "#1a1a1a", "strokeWidth": 2}, "encoding": {"x": {"value": 138}, "y": {"value": 221}, "y2": {"value": 399}}},
      {"mark": {"type": "rule", "stroke": "#1a1a1a", "strokeWidth": 2}, "encoding": {"x": {"value": 59}, "x2": {"value": 217}, "y": {"value": 310}}},
      {"mark": {"type": "text", "fontSize": 8.5, "fontWeight": "bold", "color": "#3a3a3a", "align": "left", "baseline": "middle", "lineBreak": "\n", "lineHeight": 12}, "encoding": {"x": {"value": 66}, "y": {"value": 280}, "text": {"value": "- B :\n- FI :\n- T :"}}},
      {"mark": {"type": "text", "fontSize": 6.5, "color": "#3a3a3a", "align": "left", "baseline": "middle", "lineBreak": "\n", "lineHeight": 12}, "encoding": {"x": {"value": 88}, "y": {"value": 280}, "text": {"value": "balanced\nfossil-intensive\nnon-fossil"}}},
      {"mark": {"type": "text", "fontSize": 12, "fontWeight": "bold", "color": "#222222", "align": "center", "baseline": "middle", "lineBreak": "\n", "lineHeight": 12.5}, "encoding": {"x": {"value": 38}, "y": {"value": 310.5}, "text": {"value": "More\nglobal"}}},
      {"mark": {"type": "text", "fontSize": 12, "fontWeight": "bold", "color": "#222222", "align": "center", "baseline": "middle", "lineBreak": "\n", "lineHeight": 12.5}, "encoding": {"x": {"value": 244}, "y": {"value": 310.5}, "text": {"value": "More\nregional"}}},
      {"mark": {"type": "text", "fontSize": 12, "fontWeight": "bold", "color": "#222222", "align": "center", "baseline": "middle", "lineBreak": "\n", "lineHeight": 12.5}, "encoding": {"x": {"value": 138}, "y": {"value": 415.5}, "text": {"value": "More\nenvironmental"}}},
      {"mark": {"type": "rect", "fill": "#F4F3EE"}, "encoding": {"x": {"value": 88}, "x2": {"value": 193}, "y": {"value": 474}, "y2": {"value": 624}}},
      {"mark": {"type": "text", "fontSize": 11.5, "fontWeight": "bold", "color": "#222222", "align": "left", "baseline": "middle"}, "encoding": {"x": {"value": 114}, "y": {"value": 486}, "text": {"value": "Scenarios"}}},
      {"data": {"name": "scenarios"}, "mark": {"type": "rule", "strokeWidth": 2},
       "encoding": {
         "x": {"value": 114}, "x2": {"value": 137},
         "y": {"field": "scenario", "type": "nominal", "scale": {"type": "point", "domain": ["A1B", "A1T", "A1FI", "A2", "B1", "B2", "IS92a"], "range": [505, 602], "padding": 0}, "axis": null},
         "color": {"field": "scenario", "type": "nominal", "scale": {"domain": ["A1B", "A1T", "A1FI", "A2", "B1", "B2", "IS92a"], "range": ["#B3262F", "#EE3A2C", "#EF4A3B", "#F3B43E", "#22A64B", "#3A9ADB", "#1E1E1E"]}, "legend": null},
         "strokeDash": {"field": "scenario", "type": "nominal", "scale": {"domain": ["A1B", "A1T", "A1FI", "A2", "B1", "B2", "IS92a"], "range": [[1, 0], [5, 3], [1.6, 2], [1, 0], [1, 0], [1, 0], [1, 0]]}, "legend": null}}},
      {"data": {"name": "scenarios"}, "mark": {"type": "text", "fontSize": 11, "color": "#333333", "align": "left", "baseline": "middle"},
       "encoding": {
         "x": {"value": 143},
         "y": {"field": "scenario", "type": "nominal", "scale": {"type": "point", "domain": ["A1B", "A1T", "A1FI", "A2", "B1", "B2", "IS92a"], "range": [505, 602], "padding": 0}, "axis": null},
         "text": {"field": "scenario"}}},
      {"mark": {"type": "point", "shape": "M-1,-0.29L-0.26,-0.29L-0.26,-0.91L1,0L-0.26,0.91L-0.26,0.29L-1,0.29Z", "size": 1296, "filled": true, "fill": "#111111", "strokeWidth": 0, "opacity": 1}, "encoding": {"x": {"value": 290}, "y": {"value": 313}}}
    ]
  },
  {
    "width": 117, "height": 114,
    "title": {"text": "(b) CO₂ emissions (Gt C)", "dx": -23},
    "layer": [
      {"data": {"values": [{}]}, "mark": {"type": "rect", "fill": {"gradient": "linear", "x1": 0, "y1": 0, "x2": 0, "y2": 1, "stops": [{"offset": 0, "color": "#D8D4C0"}, {"offset": 1, "color": "#FCFAE3"}]}}, "encoding": {"x": {"value": 0}, "x2": {"value": "width"}, "y": {"value": 0}, "y2": {"value": "height"}}},
      {"data": {"values": [{"year": 2025}, {"year": 2050}]}, "mark": {"type": "rule", "stroke": "#4a4a4a", "strokeWidth": 1.2, "strokeDash": [7, 2, 2, 2]},
       "encoding": {"x": {"field": "year", "type": "quantitative", "scale": {"domain": [1990, 2100], "nice": false, "zero": false}, "axis": {"values": [1990, 2000, 2010, 2020, 2030, 2040, 2050, 2060, 2070, 2080, 2090, 2100], "format": "d", "labelExpr": "datum.value % 50 === 0 ? datum.label : ''"}, "title": null}}},
      {"data": {"name": "co2e"}, "mark": {"type": "line", "strokeWidth": 2},
       "encoding": {
         "x": {"field": "year", "type": "quantitative", "scale": {"domain": [1990, 2100], "nice": false, "zero": false}, "axis": {"values": [1990, 2000, 2010, 2020, 2030, 2040, 2050, 2060, 2070, 2080, 2090, 2100], "format": "d", "labelExpr": "datum.value % 50 === 0 ? datum.label : ''"}, "title": null},
         "y": {"field": "value", "type": "quantitative", "scale": {"domain": [4.2, 30.3], "nice": false, "zero": false}, "axis": {"values": [6, 8, 10, 12, 14, 16, 18, 20, 22, 24, 26, 28, 30], "labelExpr": "datum.value % 10 === 0 ? datum.label : ''"}, "title": null},
         "color": {"field": "scenario", "type": "nominal", "scale": {"domain": ["A1B", "A1T", "A1FI", "A2", "B1", "B2", "IS92a"], "range": ["#B3262F", "#EE3A2C", "#EF4A3B", "#F3B43E", "#22A64B", "#3A9ADB", "#1E1E1E"]}, "legend": null},
         "strokeDash": {"field": "scenario", "type": "nominal", "scale": {"domain": ["A1B", "A1T", "A1FI", "A2", "B1", "B2", "IS92a"], "range": [[1, 0], [5, 3], [1.6, 2], [1, 0], [1, 0], [1, 0], [1, 0]]}, "legend": null}}}
    ]
  },
  {
    "width": 149, "height": 114,
    "data": {"values": [{}]},
    "layer": [
      {"mark": {"type": "rule", "stroke": "#ffffff", "strokeWidth": 3}, "encoding": {"x": {"value": 51.5}, "y": {"value": -57}, "y2": {"value": 284}}},
      {"mark": {"type": "rule", "stroke": "#ffffff", "strokeWidth": 3}, "encoding": {"x": {"value": 51.5}, "y": {"value": 344}, "y2": {"value": 669}}},
      {"mark": {"type": "point", "shape": "M-1,-0.29L-0.26,-0.29L-0.26,-0.91L1,0L-0.26,0.91L-0.26,0.29L-1,0.29Z", "size": 1296, "filled": true, "fill": "#111111", "strokeWidth": 0, "opacity": 1}, "encoding": {"x": {"value": 55}, "y": {"value": 313}}}
    ]
  },
  {
    "width": 117, "height": 114,
    "title": {"text": "(f) CO₂ concentration (ppm)", "dx": -41},
    "layer": [
      {"data": {"values": [{}]}, "mark": {"type": "rect", "fill": {"gradient": "linear", "x1": 0, "y1": 0, "x2": 0, "y2": 1, "stops": [{"offset": 0, "color": "#D8D4C0"}, {"offset": 1, "color": "#FCFAE3"}]}}, "encoding": {"x": {"value": 0}, "x2": {"value": "width"}, "y": {"value": 0}, "y2": {"value": "height"}}},
      {"data": {"values": [{"year": 2025}, {"year": 2050}]}, "mark": {"type": "rule", "stroke": "#4a4a4a", "strokeWidth": 1.2, "strokeDash": [7, 2, 2, 2]},
       "encoding": {"x": {"field": "year", "type": "quantitative", "scale": {"domain": [1990, 2100], "nice": false, "zero": false}, "axis": {"values": [1990, 2000, 2010, 2020, 2030, 2040, 2050, 2060, 2070, 2080, 2090, 2100], "format": "d", "labelExpr": "datum.value % 50 === 0 ? datum.label : ''"}, "title": null}}},
      {"data": {"name": "co2c"}, "mark": {"type": "line", "strokeWidth": 2, "interpolate": "monotone"},
       "encoding": {
         "x": {"field": "year", "type": "quantitative", "scale": {"domain": [1990, 2100], "nice": false, "zero": false}, "axis": {"values": [1990, 2000, 2010, 2020, 2030, 2040, 2050, 2060, 2070, 2080, 2090, 2100], "format": "d", "labelExpr": "datum.value % 50 === 0 ? datum.label : ''"}, "title": null},
         "y": {"field": "value", "type": "quantitative", "scale": {"domain": [300, 975], "nice": false, "zero": false}, "axis": {"values": [300, 350, 400, 450, 500, 550, 600, 650, 700, 750, 800, 850, 900, 950], "format": "d", "labelExpr": "datum.value % 200 === 100 ? datum.label : ''"}, "title": null},
         "color": {"field": "scenario", "type": "nominal", "scale": {"domain": ["A1B", "A1T", "A1FI", "A2", "B1", "B2", "IS92a"], "range": ["#B3262F", "#EE3A2C", "#EF4A3B", "#F3B43E", "#22A64B", "#3A9ADB", "#1E1E1E"]}, "legend": null},
         "strokeDash": {"field": "scenario", "type": "nominal", "scale": {"domain": ["A1B", "A1T", "A1FI", "A2", "B1", "B2", "IS92a"], "range": [[1, 0], [5, 3], [1.6, 2], [1, 0], [1, 0], [1, 0], [1, 0]]}, "legend": null}}}
    ]
  },
  {
    "width": 66, "height": 114,
    "data": {"values": [{}]},
    "layer": [
      {"mark": {"type": "point", "shape": "M-1,-0.29L-0.26,-0.29L-0.26,-0.91L1,0L-0.26,0.91L-0.26,0.29L-1,0.29Z", "size": 1296, "filled": true, "fill": "#111111", "strokeWidth": 0, "opacity": 1}, "encoding": {"x": {"value": 45}, "y": {"value": 313}}}
    ]
  },
  {"width": 1, "height": 1, "data": {"values": [{}]}, "mark": {"type": "rect", "opacity": 0}, "encoding": {"x": {"value": 0}, "x2": {"value": 1}, "y": {"value": 0}, "y2": {"value": 1}}},
  {
    "width": 117, "height": 112,
    "title": {"text": "(c) CH₄ emissions (Tg CH₄)", "dx": -23},
    "layer": [
      {"data": {"values": [{}]}, "mark": {"type": "rect", "fill": {"gradient": "linear", "x1": 0, "y1": 0, "x2": 0, "y2": 1, "stops": [{"offset": 0, "color": "#D8D4C0"}, {"offset": 1, "color": "#FCFAE3"}]}}, "encoding": {"x": {"value": 0}, "x2": {"value": "width"}, "y": {"value": 0}, "y2": {"value": "height"}}},
      {"data": {"values": [{"year": 2025}, {"year": 2050}]}, "mark": {"type": "rule", "stroke": "#4a4a4a", "strokeWidth": 1.2, "strokeDash": [7, 2, 2, 2]},
       "encoding": {"x": {"field": "year", "type": "quantitative", "scale": {"domain": [1990, 2100], "nice": false, "zero": false}, "axis": {"values": [1990, 2000, 2010, 2020, 2030, 2040, 2050, 2060, 2070, 2080, 2090, 2100], "format": "d", "labelExpr": "datum.value % 50 === 0 ? datum.label : ''"}, "title": null}}},
      {"data": {"name": "ch4e"}, "mark": {"type": "line", "strokeWidth": 2},
       "encoding": {
         "x": {"field": "year", "type": "quantitative", "scale": {"domain": [1990, 2100], "nice": false, "zero": false}, "axis": {"values": [1990, 2000, 2010, 2020, 2030, 2040, 2050, 2060, 2070, 2080, 2090, 2100], "format": "d", "labelExpr": "datum.value % 50 === 0 ? datum.label : ''"}, "title": null},
         "y": {"field": "value", "type": "quantitative", "scale": {"domain": [500, 1150], "nice": false, "zero": false}, "axis": {"values": [500, 550, 600, 650, 700, 750, 800, 850, 900, 950, 1000, 1050, 1100, 1150], "format": "d", "labelExpr": "datum.value % 200 === 0 ? datum.label : ''"}, "title": null},
         "color": {"field": "scenario", "type": "nominal", "scale": {"domain": ["A1B", "A1T", "A1FI", "A2", "B1", "B2", "IS92a"], "range": ["#B3262F", "#EE3A2C", "#EF4A3B", "#F3B43E", "#22A64B", "#3A9ADB", "#1E1E1E"]}, "legend": null},
         "strokeDash": {"field": "scenario", "type": "nominal", "scale": {"domain": ["A1B", "A1T", "A1FI", "A2", "B1", "B2", "IS92a"], "range": [[1, 0], [5, 3], [1.6, 2], [1, 0], [1, 0], [1, 0], [1, 0]]}, "legend": null}}}
    ]
  },
  {"width": 1, "height": 1, "data": {"values": [{}]}, "mark": {"type": "rect", "opacity": 0}, "encoding": {"x": {"value": 0}, "x2": {"value": 1}, "y": {"value": 0}, "y2": {"value": 1}}},
  {
    "width": 117, "height": 112,
    "title": {"text": "(g) CH₄ concentration (ppb)", "dx": -41},
    "layer": [
      {"data": {"values": [{}]}, "mark": {"type": "rect", "fill": {"gradient": "linear", "x1": 0, "y1": 0, "x2": 0, "y2": 1, "stops": [{"offset": 0, "color": "#D8D4C0"}, {"offset": 1, "color": "#FCFAE3"}]}}, "encoding": {"x": {"value": 0}, "x2": {"value": "width"}, "y": {"value": 0}, "y2": {"value": "height"}}},
      {"data": {"values": [{"year": 2025}, {"year": 2050}]}, "mark": {"type": "rule", "stroke": "#4a4a4a", "strokeWidth": 1.2, "strokeDash": [7, 2, 2, 2]},
       "encoding": {"x": {"field": "year", "type": "quantitative", "scale": {"domain": [1990, 2100], "nice": false, "zero": false}, "axis": {"values": [1990, 2000, 2010, 2020, 2030, 2040, 2050, 2060, 2070, 2080, 2090, 2100], "format": "d", "labelExpr": "datum.value % 50 === 0 ? datum.label : ''"}, "title": null}}},
      {"data": {"name": "ch4c"}, "mark": {"type": "line", "strokeWidth": 2, "interpolate": "monotone"},
       "encoding": {
         "x": {"field": "year", "type": "quantitative", "scale": {"domain": [1990, 2100], "nice": false, "zero": false}, "axis": {"values": [1990, 2000, 2010, 2020, 2030, 2040, 2050, 2060, 2070, 2080, 2090, 2100], "format": "d", "labelExpr": "datum.value % 50 === 0 ? datum.label : ''"}, "title": null},
         "y": {"field": "value", "type": "quantitative", "scale": {"domain": [1500, 4000], "nice": false, "zero": false}, "axis": {"values": [1500, 1750, 2000, 2250, 2500, 2750, 3000, 3250, 3500, 3750, 4000], "format": "d", "labelExpr": "datum.value % 1000 === 500 ? datum.label : ''"}, "title": null},
         "color": {"field": "scenario", "type": "nominal", "scale": {"domain": ["A1B", "A1T", "A1FI", "A2", "B1", "B2", "IS92a"], "range": ["#B3262F", "#EE3A2C", "#EF4A3B", "#F3B43E", "#22A64B", "#3A9ADB", "#1E1E1E"]}, "legend": null},
         "strokeDash": {"field": "scenario", "type": "nominal", "scale": {"domain": ["A1B", "A1T", "A1FI", "A2", "B1", "B2", "IS92a"], "range": [[1, 0], [5, 3], [1.6, 2], [1, 0], [1, 0], [1, 0], [1, 0]]}, "legend": null}}}
    ]
  },
  {"width": 1, "height": 1, "data": {"values": [{}]}, "mark": {"type": "rect", "opacity": 0}, "encoding": {"x": {"value": 0}, "x2": {"value": 1}, "y": {"value": 0}, "y2": {"value": 1}}},
  {"width": 1, "height": 1, "data": {"values": [{}]}, "mark": {"type": "rect", "opacity": 0}, "encoding": {"x": {"value": 0}, "x2": {"value": 1}, "y": {"value": 0}, "y2": {"value": 1}}},
  {
    "width": 117, "height": 116,
    "title": {"text": "(d) N₂O emissions (Tg N)", "dx": -23},
    "layer": [
      {"data": {"values": [{}]}, "mark": {"type": "rect", "fill": {"gradient": "linear", "x1": 0, "y1": 0, "x2": 0, "y2": 1, "stops": [{"offset": 0, "color": "#D8D4C0"}, {"offset": 1, "color": "#FCFAE3"}]}}, "encoding": {"x": {"value": 0}, "x2": {"value": "width"}, "y": {"value": 0}, "y2": {"value": "height"}}},
      {"data": {"values": [{"year": 2025}, {"year": 2050}]}, "mark": {"type": "rule", "stroke": "#4a4a4a", "strokeWidth": 1.2, "strokeDash": [7, 2, 2, 2]},
       "encoding": {"x": {"field": "year", "type": "quantitative", "scale": {"domain": [1990, 2100], "nice": false, "zero": false}, "axis": {"values": [1990, 2000, 2010, 2020, 2030, 2040, 2050, 2060, 2070, 2080, 2090, 2100], "format": "d", "labelExpr": "datum.value % 50 === 0 ? datum.label : ''"}, "title": null}}},
      {"data": {"name": "n2oe"}, "mark": {"type": "line", "strokeWidth": 2},
       "encoding": {
         "x": {"field": "year", "type": "quantitative", "scale": {"domain": [1990, 2100], "nice": false, "zero": false}, "axis": {"values": [1990, 2000, 2010, 2020, 2030, 2040, 2050, 2060, 2070, 2080, 2090, 2100], "format": "d", "labelExpr": "datum.value % 50 === 0 ? datum.label : ''"}, "title": null},
         "y": {"field": "value", "type": "quantitative", "scale": {"domain": [14.5, 26.2], "nice": false, "zero": false}, "axis": {"values": [15, 16, 17, 18, 19, 20, 21, 22, 23, 24, 25, 26], "labelExpr": "datum.value % 4 === 0 ? datum.label : ''"}, "title": null},
         "color": {"field": "scenario", "type": "nominal", "scale": {"domain": ["A1B", "A1T", "A1FI", "A2", "B1", "B2", "IS92a"], "range": ["#B3262F", "#EE3A2C", "#EF4A3B", "#F3B43E", "#22A64B", "#3A9ADB", "#1E1E1E"]}, "legend": null},
         "strokeDash": {"field": "scenario", "type": "nominal", "scale": {"domain": ["A1B", "A1T", "A1FI", "A2", "B1", "B2", "IS92a"], "range": [[1, 0], [5, 3], [1.6, 2], [1, 0], [1, 0], [1, 0], [1, 0]]}, "legend": null}}}
    ]
  },
  {"width": 1, "height": 1, "data": {"values": [{}]}, "mark": {"type": "rect", "opacity": 0}, "encoding": {"x": {"value": 0}, "x2": {"value": 1}, "y": {"value": 0}, "y2": {"value": 1}}},
  {
    "width": 117, "height": 116,
    "title": {"text": "(h) N₂O concentration (ppb)", "dx": -41},
    "layer": [
      {"data": {"values": [{}]}, "mark": {"type": "rect", "fill": {"gradient": "linear", "x1": 0, "y1": 0, "x2": 0, "y2": 1, "stops": [{"offset": 0, "color": "#D8D4C0"}, {"offset": 1, "color": "#FCFAE3"}]}}, "encoding": {"x": {"value": 0}, "x2": {"value": "width"}, "y": {"value": 0}, "y2": {"value": "height"}}},
      {"data": {"values": [{"year": 2025}, {"year": 2050}]}, "mark": {"type": "rule", "stroke": "#4a4a4a", "strokeWidth": 1.2, "strokeDash": [7, 2, 2, 2]},
       "encoding": {"x": {"field": "year", "type": "quantitative", "scale": {"domain": [1990, 2100], "nice": false, "zero": false}, "axis": {"values": [1990, 2000, 2010, 2020, 2030, 2040, 2050, 2060, 2070, 2080, 2090, 2100], "format": "d", "labelExpr": "datum.value % 50 === 0 ? datum.label : ''"}, "title": null}}},
      {"data": {"name": "n2oc"}, "mark": {"type": "line", "strokeWidth": 2, "interpolate": "monotone"},
       "encoding": {
         "x": {"field": "year", "type": "quantitative", "scale": {"domain": [1990, 2100], "nice": false, "zero": false}, "axis": {"values": [1990, 2000, 2010, 2020, 2030, 2040, 2050, 2060, 2070, 2080, 2090, 2100], "format": "d", "labelExpr": "datum.value % 50 === 0 ? datum.label : ''"}, "title": null},
         "y": {"field": "value", "type": "quantitative", "scale": {"domain": [300, 500], "nice": false, "zero": false}, "axis": {"values": [300, 325, 350, 375, 400, 425, 450, 475, 500], "format": "d", "labelExpr": "datum.value % 100 === 0 ? datum.label : ''"}, "title": null},
         "color": {"field": "scenario", "type": "nominal", "scale": {"domain": ["A1B", "A1T", "A1FI", "A2", "B1", "B2", "IS92a"], "range": ["#B3262F", "#EE3A2C", "#EF4A3B", "#F3B43E", "#22A64B", "#3A9ADB", "#1E1E1E"]}, "legend": null},
         "strokeDash": {"field": "scenario", "type": "nominal", "scale": {"domain": ["A1B", "A1T", "A1FI", "A2", "B1", "B2", "IS92a"], "range": [[1, 0], [5, 3], [1.6, 2], [1, 0], [1, 0], [1, 0], [1, 0]]}, "legend": null}}}
    ]
  },
  {"width": 1, "height": 1, "data": {"values": [{}]}, "mark": {"type": "rect", "opacity": 0}, "encoding": {"x": {"value": 0}, "x2": {"value": 1}, "y": {"value": 0}, "y2": {"value": 1}}},
  {
    "width": 350, "height": 100,
    "data": {"values": [{}]},
    "layer": [
      {"mark": {"type": "rect", "fill": "#ffffff"}, "encoding": {"x": {"value": 0}, "x2": {"value": 799}, "y": {"value": 159}, "y2": {"value": 163}}},
      {"mark": {"type": "rect", "fill": "#ffffff"}, "encoding": {"x": {"value": 0}, "x2": {"value": 8}, "y": {"value": 159}, "y2": {"value": 323}}},
      {"mark": {"type": "rect", "fill": {"gradient": "linear", "x1": 0, "y1": 0, "x2": 0, "y2": 1, "stops": [{"offset": 0, "color": "#F6BC5B"}, {"offset": 1, "color": "#FEF1CB"}]}}, "encoding": {"x": {"value": 8}, "x2": {"value": 799}, "y": {"value": 163}, "y2": {"value": 323}}},
      {"mark": {"type": "text", "font": "DejaVu Sans Condensed, Liberation Sans, sans-serif", "fontSize": 19, "fontWeight": "bold", "color": "#1e1e1e", "align": "center", "baseline": "middle"}, "encoding": {"x": {"value": 400}, "y": {"value": 184}, "text": {"value": "A1FI, A1T, and A1B"}}},
      {"mark": {"type": "text", "font": "DejaVu Sans Condensed, Liberation Sans, sans-serif", "fontSize": 10.5, "color": "#222222", "align": "left", "baseline": "top", "lineBreak": "\n", "lineHeight": 12.6}, "encoding": {"x": {"value": 23}, "y": {"value": 194}, "text": {"value": "The A1 storyline and scenario family describes\na future world of very rapid economic growth,\nglobal population that peaks in mid-century and\ndeclines thereafter, and the rapid introduction of\nnew and more efficient technologies. Major\nunderlying themes are convergence among\nregions, capacity-building, and increased\ncultural and social interactions, with a"}}},
      {"mark": {"type": "text", "font": "DejaVu Sans Condensed, Liberation Sans, sans-serif", "fontSize": 10.5, "color": "#222222", "align": "left", "baseline": "top", "lineBreak": "\n", "lineHeight": 12.6}, "encoding": {"x": {"value": 281}, "y": {"value": 194}, "text": {"value": "substantial reduction in regional differences in\nper capita income. The A1 scenario family\ndevelops into three groups that describe\nalternative directions of technological change\nin the energy system. The three A1 groups are\ndistinguished by their technological emphasis:\nfossil intensive (A1FI), non-fossil energy\nsources (A1T), or a balance across all"}}},
      {"mark": {"type": "text", "font": "DejaVu Sans Condensed, Liberation Sans, sans-serif", "fontSize": 10.5, "color": "#222222", "align": "left", "baseline": "top", "lineBreak": "\n", "lineHeight": 12.6}, "encoding": {"x": {"value": 527}, "y": {"value": 194}, "text": {"value": "sources (A1B) (where balanced is defined as\nnot relying too heavily on one particular\nenergy source, on the assumption that similar\nimprovment rates apply to all energy supply\nand end use technologies)."}}}
    ]
  },
  {
    "width": 117, "height": 117,
    "title": {"text": "(e) SO₂ emissions (Tg S)", "dx": -23},
    "layer": [
      {"data": {"values": [{}]}, "mark": {"type": "rect", "fill": {"gradient": "linear", "x1": 0, "y1": 0, "x2": 0, "y2": 1, "stops": [{"offset": 0, "color": "#D8D4C0"}, {"offset": 1, "color": "#FCFAE3"}]}}, "encoding": {"x": {"value": 0}, "x2": {"value": "width"}, "y": {"value": 0}, "y2": {"value": "height"}}},
      {"data": {"values": [{"year": 2025}, {"year": 2050}]}, "mark": {"type": "rule", "stroke": "#4a4a4a", "strokeWidth": 1.2, "strokeDash": [7, 2, 2, 2]},
       "encoding": {"x": {"field": "year", "type": "quantitative", "scale": {"domain": [1990, 2100], "nice": false, "zero": false}, "axis": {"values": [1990, 2000, 2010, 2020, 2030, 2040, 2050, 2060, 2070, 2080, 2090, 2100], "format": "d", "labelExpr": "datum.value % 50 === 0 ? datum.label : ''"}, "title": null}}},
      {"data": {"name": "so2e"}, "mark": {"type": "line", "strokeWidth": 2},
       "encoding": {
         "x": {"field": "year", "type": "quantitative", "scale": {"domain": [1990, 2100], "nice": false, "zero": false}, "axis": {"values": [1990, 2000, 2010, 2020, 2030, 2040, 2050, 2060, 2070, 2080, 2090, 2100], "format": "d", "labelExpr": "datum.value % 50 === 0 ? datum.label : ''"}, "title": null},
         "y": {"field": "value", "type": "quantitative", "scale": {"domain": [18, 166], "nice": false, "zero": false}, "axis": {"values": [20, 30, 40, 50, 60, 70, 80, 90, 100, 110, 120, 130, 140, 150, 160], "labelExpr": "datum.value % 50 === 0 ? datum.label : ''"}, "title": null},
         "color": {"field": "scenario", "type": "nominal", "scale": {"domain": ["A1B", "A1T", "A1FI", "A2", "B1", "B2", "IS92a"], "range": ["#B3262F", "#EE3A2C", "#EF4A3B", "#F3B43E", "#22A64B", "#3A9ADB", "#1E1E1E"]}, "legend": null},
         "strokeDash": {"field": "scenario", "type": "nominal", "scale": {"domain": ["A1B", "A1T", "A1FI", "A2", "B1", "B2", "IS92a"], "range": [[1, 0], [5, 3], [1.6, 2], [1, 0], [1, 0], [1, 0], [1, 0]]}, "legend": null}}}
    ]
  },
  {"width": 1, "height": 1, "data": {"values": [{}]}, "mark": {"type": "rect", "opacity": 0}, "encoding": {"x": {"value": 0}, "x2": {"value": 1}, "y": {"value": 0}, "y2": {"value": 1}}},
  {
    "width": 117, "height": 117,
    "title": {"text": "(i) Sulfate aerosol (Tg S)", "dx": -41},
    "layer": [
      {"data": {"values": [{}]}, "mark": {"type": "rect", "fill": {"gradient": "linear", "x1": 0, "y1": 0, "x2": 0, "y2": 1, "stops": [{"offset": 0, "color": "#D8D4C0"}, {"offset": 1, "color": "#FCFAE3"}]}}, "encoding": {"x": {"value": 0}, "x2": {"value": "width"}, "y": {"value": 0}, "y2": {"value": "height"}}},
      {"data": {"values": [{"year": 2025}, {"year": 2050}]}, "mark": {"type": "rule", "stroke": "#4a4a4a", "strokeWidth": 1.2, "strokeDash": [7, 2, 2, 2]},
       "encoding": {"x": {"field": "year", "type": "quantitative", "scale": {"domain": [1990, 2100], "nice": false, "zero": false}, "axis": {"values": [1990, 2000, 2010, 2020, 2030, 2040, 2050, 2060, 2070, 2080, 2090, 2100], "format": "d", "labelExpr": "datum.value % 50 === 0 ? datum.label : ''"}, "title": null}}},
      {"data": {"name": "sulf"}, "mark": {"type": "line", "strokeWidth": 2},
       "encoding": {
         "x": {"field": "year", "type": "quantitative", "scale": {"domain": [1990, 2100], "nice": false, "zero": false}, "axis": {"values": [1990, 2000, 2010, 2020, 2030, 2040, 2050, 2060, 2070, 2080, 2090, 2100], "format": "d", "labelExpr": "datum.value % 50 === 0 ? datum.label : ''"}, "title": null},
         "y": {"field": "value", "type": "quantitative", "scale": {"domain": [0, 1.23], "nice": false, "zero": false}, "axis": {"values": [0, 0.1, 0.2, 0.3, 0.4, 0.5, 0.6, 0.7, 0.8, 0.9, 1.0, 1.1, 1.2], "labelExpr": "round(datum.value * 10) % 4 === 0 ? format(datum.value, '.1f') : ''"}, "title": null},
         "color": {"field": "scenario", "type": "nominal", "scale": {"domain": ["A1B", "A1T", "A1FI", "A2", "B1", "B2", "IS92a"], "range": ["#B3262F", "#EE3A2C", "#EF4A3B", "#F3B43E", "#22A64B", "#3A9ADB", "#1E1E1E"]}, "legend": null},
         "strokeDash": {"field": "scenario", "type": "nominal", "scale": {"domain": ["A1B", "A1T", "A1FI", "A2", "B1", "B2", "IS92a"], "range": [[1, 0], [5, 3], [1.6, 2], [1, 0], [1, 0], [1, 0], [1, 0]]}, "legend": null}}}
    ]
  },
  {"width": 1, "height": 1, "data": {"values": [{}]}, "mark": {"type": "rect", "opacity": 0}, "encoding": {"x": {"value": 0}, "x2": {"value": 1}, "y": {"value": 0}, "y2": {"value": 1}}}
]
}
